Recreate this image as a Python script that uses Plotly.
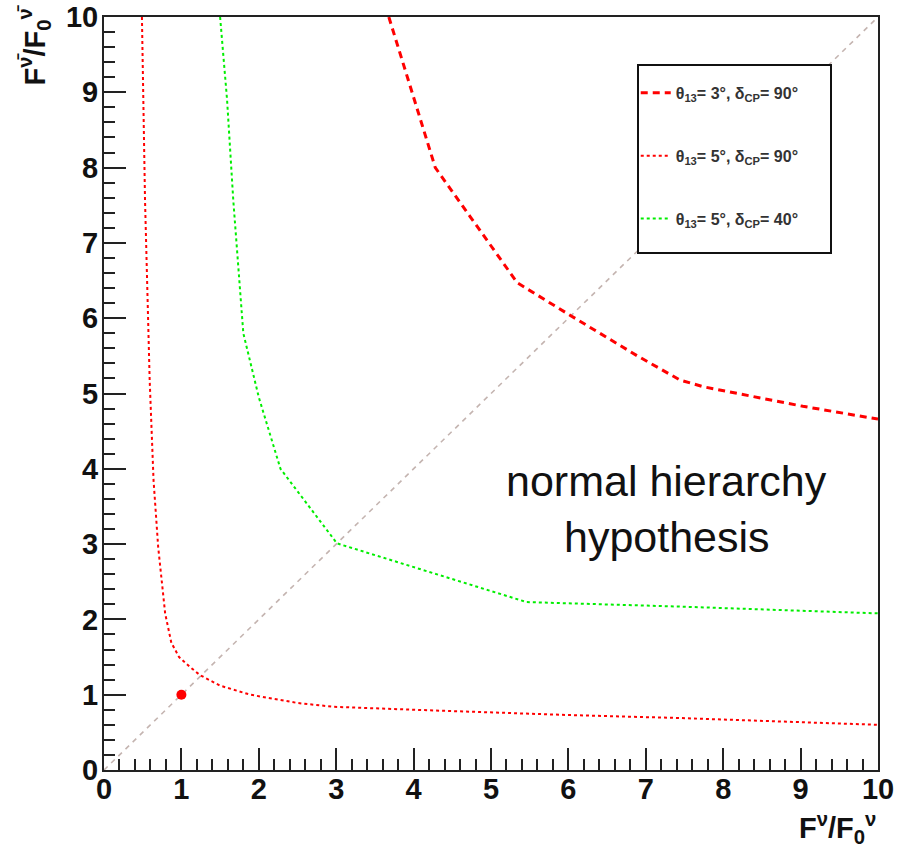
import plotly.graph_objects as go

# ---- data ----
red_dash_x = [3.68, 3.88, 4.28, 4.73, 5.34, 6.02, 6.89, 7.44, 7.74, 9.03, 10.0]
red_dash_y = [10.0, 9.34, 8.00, 7.35, 6.47, 6.04, 5.50, 5.18, 5.09, 4.83, 4.66]

red_dot_x = [0.49, 0.53, 0.59, 0.64, 0.70, 0.79, 0.87, 0.97, 1.11, 1.24, 1.50, 1.89, 2.50, 2.96, 4.00, 5.12, 6.00, 7.44, 8.50, 10.0]
red_dot_y = [10.0, 7.57, 5.18, 3.85, 2.96, 2.08, 1.69, 1.50, 1.37, 1.26, 1.12, 1.00, 0.89, 0.84, 0.80, 0.76, 0.73, 0.69, 0.65, 0.60]

green_x = [1.50, 1.59, 1.67, 1.80, 2.00, 2.28, 3.01, 3.82, 4.86, 5.46, 7.44, 10.0]
green_y = [10.0, 8.90, 7.57, 5.80, 4.95, 4.00, 3.01, 2.75, 2.42, 2.23, 2.17, 2.08]

diag_x = [0, 10]
diag_y = [0, 10]

point_x = [1]
point_y = [1]

names = [
    "θ<sub>13</sub>= 3°, δ<sub>CP</sub>= 90°",
    "θ<sub>13</sub>= 5°, δ<sub>CP</sub>= 90°",
    "θ<sub>13</sub>= 5°, δ<sub>CP</sub>= 40°",
]

FONT = "Liberation Sans, Arial, Helvetica, sans-serif"

fig = go.Figure()

fig.add_trace(go.Scatter(x=diag_x, y=diag_y, mode="lines", showlegend=False,
                         line=dict(color="#c4b4b0", width=1.6, dash="5px,5px")))
fig.add_trace(go.Scatter(x=red_dash_x, y=red_dash_y, mode="lines", name=names[0],
                         legendgroup="a", line=dict(color="#ff0000", width=3, dash="7px,5px")))
fig.add_trace(go.Scatter(x=red_dot_x, y=red_dot_y, mode="lines", name=names[1],
                         legendgroup="b", line=dict(color="#ff0000", width=2, dash="dot")))
fig.add_trace(go.Scatter(x=green_x, y=green_y, mode="lines", name=names[2],
                         legendgroup="c", line=dict(color="#00ee00", width=2, dash="dot")))
fig.add_trace(go.Scatter(x=point_x, y=point_y, mode="markers", showlegend=False,
                         marker=dict(color="#ff0000", size=10)))

axis_common = dict(
    range=[0, 10], dtick=1, tick0=0,
    ticks="inside", ticklen=22, tickwidth=2, tickcolor="#222",
    showline=True, linewidth=2, linecolor="#222", mirror=True,
    showgrid=False, zeroline=False, automargin=False,
    tickfont=dict(family=FONT, size=29, color="#111", weight="bold"),
    minor=dict(ticks="inside", ticklen=11, tickwidth=2, tickcolor="#222", dtick=0.2, showgrid=False),
    fixedrange=True,
)

fig.update_layout(
    width=899, height=848,
    margin=dict(l=104, r=21, t=17, b=78, autoexpand=False),
    plot_bgcolor="white", paper_bgcolor="white",
    xaxis=dict(**axis_common, ticklabelstandoff=-8),
    yaxis=dict(**axis_common, ticklabelstandoff=-2),
    legend=dict(
        x=0.687, y=0.9217, xanchor="left", yanchor="top",
        borderwidth=0, bgcolor="rgba(0,0,0,0)",
        font=dict(family=FONT, size=16, color="#333", weight="bold"),
        tracegroupgap=39, traceorder="grouped",
        itemwidth=30,
    ),
    shapes=[
        dict(type="rect", xref="paper", yref="paper",
             x0=(638 - 104) / 774, x1=(831 - 104) / 774,
             y0=(770 - 253) / 753, y1=(770 - 65) / 753,
             line=dict(color="#111", width=2), fillcolor="white", layer="above"),
    ],
    annotations=[
        dict(text="normal hierarchy", x=(666 - 104) / 77.4, y=(770 - 481) / 75.3, xref="x", yref="y",
             showarrow=False, font=dict(family=FONT, size=43, color="#111")),
        dict(text="hypothesis", x=(667 - 104) / 77.4, y=(770 - 537) / 75.3, xref="x", yref="y",
             showarrow=False, font=dict(family=FONT, size=43, color="#111")),
        dict(text="<b>F<sup>ν</sup>/F<sub>0</sub><sup>ν</sup></b>", x=1.0, y=-(806 - 770) / 753,
             xref="paper", yref="paper", xanchor="right", yanchor="top", showarrow=False,
             font=dict(family=FONT, size=29, color="#111")),
        dict(text="<b>F<sup>ν̄</sup>/F<sub>0</sub><sup>ν̄</sup></b>", x=-(104 - 12) / 774, y=1 + 14 / 753,
             xref="paper", yref="paper", xanchor="left", yanchor="top", textangle=-90,
             showarrow=False, font=dict(family=FONT, size=29, color="#111")),
    ],
)

fig.write_html("out.html")
